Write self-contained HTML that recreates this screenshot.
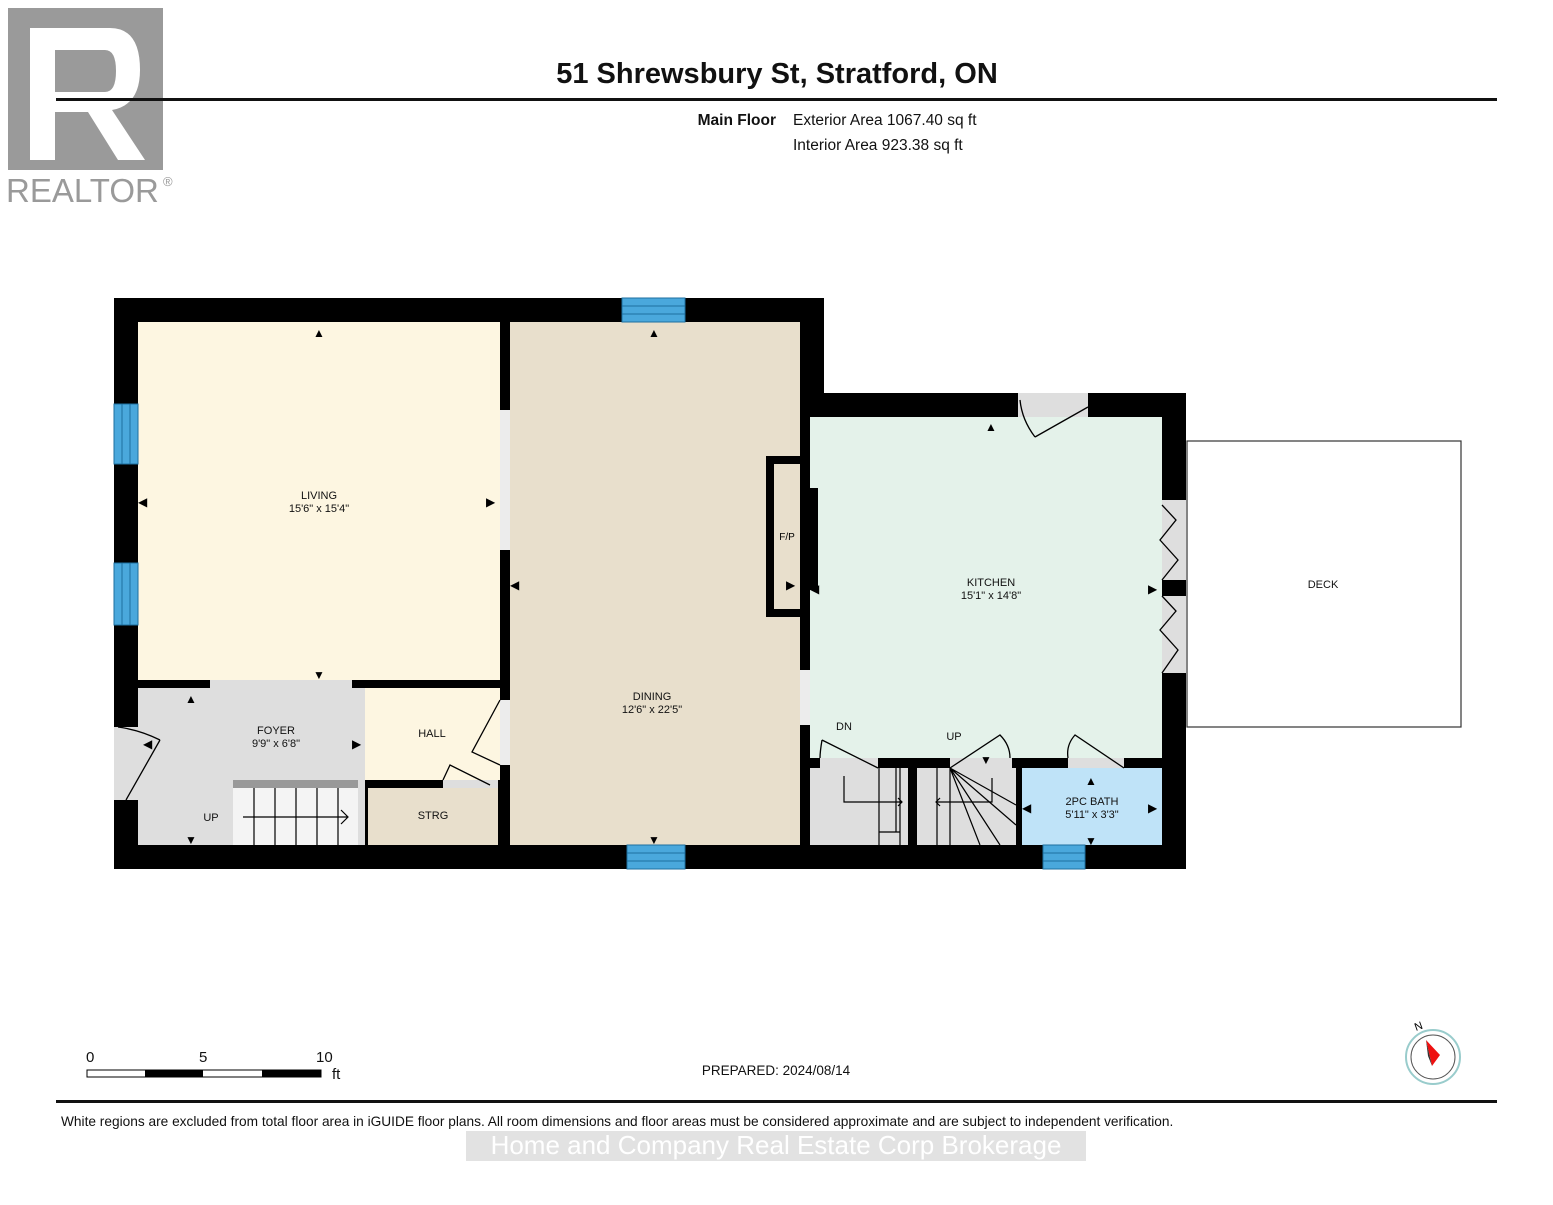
<!DOCTYPE html>
<html><head><meta charset="utf-8"><style>
body{margin:0;background:#fff;width:1553px;height:1200px;overflow:hidden;font-family:"Liberation Sans",Arial,sans-serif}
</style></head><body>
<svg width="1553" height="1200" viewBox="0 0 1553 1200" xmlns="http://www.w3.org/2000/svg" font-family="Liberation Sans, Arial, sans-serif">
<!-- logo -->
<rect x="8" y="8" width="155" height="162" fill="#9a9a9a"/>
<path d="M30 28 H110 Q140 28 140 70 Q140 105 112 110 L145 160 H118 L88 112 H55 V160 H30 Z M55 50 V92 H105 Q116 92 116 71 Q116 50 105 50 Z" fill="#fff"/>
<text x="6" y="202" font-size="33" fill="#9a9a9a">REALTOR</text><text x="163" y="186" font-size="13" fill="#9a9a9a">®</text>
<text x="777" y="83" font-size="29" font-weight="bold" text-anchor="middle" fill="#111">51 Shrewsbury St, Stratford, ON</text>
<rect x="56" y="98" width="1441" height="3" fill="#111"/>
<text x="776" y="125" font-size="15.5" font-weight="bold" text-anchor="end" fill="#111">Main Floor</text>
<text x="793" y="125" font-size="15.5" fill="#111">Exterior Area 1067.40 sq ft</text>
<text x="793" y="150" font-size="15.5" fill="#111">Interior Area 923.38 sq ft</text>

<!-- walls -->
<rect x="114" y="298" width="710" height="571" fill="#000"/>
<rect x="800" y="393" width="386" height="476" fill="#000"/>
<!-- rooms -->
<rect x="138" y="322" width="362" height="358" fill="#fdf6e1"/>
<rect x="510" y="322" width="290" height="523" fill="#e8dfcc"/>
<rect x="810" y="417" width="352" height="341" fill="#e4f2ea"/>
<rect x="138" y="688" width="227" height="157" fill="#dedede"/>
<rect x="365" y="688" width="135" height="92" fill="#fdf6e1"/>
<rect x="368" y="788" width="130" height="57" fill="#e8dfcc"/>
<rect x="233" y="780" width="125" height="65" fill="#f4f4f4"/>
<rect x="233" y="780" width="125" height="8" fill="#999"/>
<g stroke="#000" stroke-width="1.2" fill="none">
<path d="M254 788V845M275 788V845M296 788V845M317 788V845M338 788V845"/>
<path d="M243 817H347M341 810L348 817L341 824"/>
</g>
<rect x="810" y="768" width="206" height="77" fill="#dedede"/>
<rect x="1022" y="768" width="140" height="77" fill="#bfe3f8"/>
<rect x="908" y="766" width="9" height="79" fill="#000"/>
<g stroke="#000" stroke-width="1.2" fill="none">
<path d="M879 768V845M900 768V845M879 832H900M896 768V832M844 776V802H902M898 798L902 802L898 806"/>
<path d="M937 768V845M950 768V845M992 778V802H936M940 798L936 802L940 806"/>
<path d="M950 768L1016 805M950 768L1016 825M950 768L1000 845M950 768L980 845"/>
</g>
<!-- openings -->
<rect x="210" y="680" width="142" height="8" fill="#dedede"/>
<rect x="500" y="410" width="10" height="140" fill="#ececec"/>
<rect x="500" y="700" width="10" height="65" fill="#ececec"/>
<rect x="800" y="670" width="10" height="55" fill="#ececec"/>
<rect x="114" y="727" width="24" height="73" fill="#dedede"/>
<rect x="1018" y="393" width="70" height="24" fill="#dedede"/>
<rect x="1162" y="500" width="24" height="80" fill="#dedede"/>
<rect x="1162" y="596" width="24" height="77" fill="#dedede"/>
<rect x="820" y="758" width="58" height="10" fill="#dedede"/>
<rect x="950" y="758" width="62" height="10" fill="#dedede"/>
<rect x="1068" y="758" width="56" height="10" fill="#dedede"/>
<rect x="443" y="780" width="55" height="8" fill="#dedede"/>
<!-- windows -->
<g fill="#4aa8dc" stroke="#1d6fa0" stroke-width="1">
<rect x="622" y="298" width="63" height="24"/><path d="M622 306H685M622 314H685"/>
<rect x="627" y="845" width="58" height="24"/><path d="M627 853H685M627 861H685"/>
<rect x="114" y="404" width="24" height="60"/><path d="M122 404V464M130 404V464"/>
<rect x="114" y="563" width="24" height="62"/><path d="M122 563V625M130 563V625"/>
<rect x="1043" y="845" width="42" height="24"/><path d="M1043 853H1085M1043 861H1085"/>
</g>
<!-- doors -->
<g stroke="#000" stroke-width="1.3" fill="none">
<path d="M160 740L126 800M160 740Q140 730 118 727"/>
<path d="M500 700L472 752L500 765"/>
<path d="M443 780L450 765L490 785"/>
<path d="M1035 437L1088 407M1035 437Q1022 420 1020 400"/>
<path d="M878 768L822 740M822 740Q820 752 820 758"/>
<path d="M950 768L1000 735Q1010 745 1010 758"/>
<path d="M1124 768L1075 735Q1066 745 1068 758"/>
<path d="M1162 505L1176 520L1160 540L1178 560L1162 580"/>
<path d="M1162 596L1176 611L1160 630L1178 650L1162 673"/>
</g>
<!-- fireplace -->
<rect x="766" y="456" width="38" height="161" fill="#000"/>
<rect x="774" y="464" width="26" height="145" fill="#e8dfcc"/>
<rect x="804" y="488" width="14" height="102" fill="#000"/>
<text x="787" y="540" font-size="10" text-anchor="middle">F/P</text>
<!-- deck -->
<rect x="1187" y="441" width="274" height="286" fill="#fff" stroke="#333" stroke-width="1.2"/>
<!-- arrows -->
<g fill="#000" font-size="12">
<text x="319" y="337" text-anchor="middle">▲</text><text x="319" y="679" text-anchor="middle">▼</text>
<text x="654" y="337" text-anchor="middle">▲</text><text x="654" y="844" text-anchor="middle">▼</text>
<text x="991" y="431" text-anchor="middle">▲</text><text x="1091" y="785" text-anchor="middle">▲</text><text x="1091" y="845" text-anchor="middle">▼</text>
<text x="191" y="703" text-anchor="middle">▲</text><text x="191" y="844" text-anchor="middle">▼</text>
<text x="986" y="764" text-anchor="middle">▼</text>
<text x="138" y="506">◀</text><text x="486" y="506">▶</text><text x="510" y="589">◀</text><text x="786" y="589">▶</text>
<text x="810" y="593">◀</text><text x="1148" y="593">▶</text><text x="352" y="748">▶</text><text x="143" y="748">◀</text>
<text x="1022" y="812">◀</text><text x="1148" y="812">▶</text>
</g>
<!-- labels -->
<g font-size="11" text-anchor="middle" fill="#111">
<text x="319" y="499">LIVING</text><text x="319" y="512">15'6" x 15'4"</text>
<text x="652" y="700">DINING</text><text x="652" y="713">12'6" x 22'5"</text>
<text x="991" y="586">KITCHEN</text><text x="991" y="599">15'1" x 14'8"</text>
<text x="276" y="734">FOYER</text><text x="276" y="747">9'9" x 6'8"</text>
<text x="432" y="737">HALL</text><text x="433" y="819">STRG</text><text x="211" y="821">UP</text>
<text x="1092" y="805">2PC BATH</text><text x="1092" y="818">5'11" x 3'3"</text>
<text x="844" y="730">DN</text><text x="954" y="740">UP</text><text x="1323" y="588">DECK</text>
</g>
<!-- scale -->
<g font-size="15" fill="#111"><text x="86" y="1062">0</text><text x="199" y="1062">5</text><text x="316" y="1062">10</text><text x="332" y="1079">ft</text></g>
<rect x="87" y="1070" width="234" height="7" fill="#fff" stroke="#000"/>
<rect x="145" y="1070" width="58" height="7" fill="#000"/><rect x="262" y="1070" width="59" height="7" fill="#000"/>
<text x="776" y="1075" font-size="13.5" text-anchor="middle" fill="#111">PREPARED: 2024/08/14</text>
<!-- compass -->
<circle cx="1433" cy="1057" r="27" fill="#fff" stroke="#9cc" stroke-width="2"/>
<circle cx="1433" cy="1057" r="22" fill="#fff" stroke="#555"/>
<path d="M1426 1040L1440 1055L1432 1066Z" fill="#e11"/><path d="M1426 1040L1432 1066L1428 1056Z" fill="#333"/>
<text x="1416" y="1031" font-size="11" transform="rotate(-20 1416 1031)">N</text>
<rect x="56" y="1100" width="1441" height="3" fill="#111"/>
<text x="61" y="1126" font-size="13.7" fill="#111">White regions are excluded from total floor area in iGUIDE floor plans. All room dimensions and floor areas must be considered approximate and are subject to independent verification.</text>
<rect x="466" y="1131" width="620" height="30" fill="#cfcfcf" opacity="0.6"/>
<text x="776" y="1154" font-size="26" text-anchor="middle" fill="#fff">Home and Company Real Estate Corp Brokerage</text>
</svg>
</body></html>
